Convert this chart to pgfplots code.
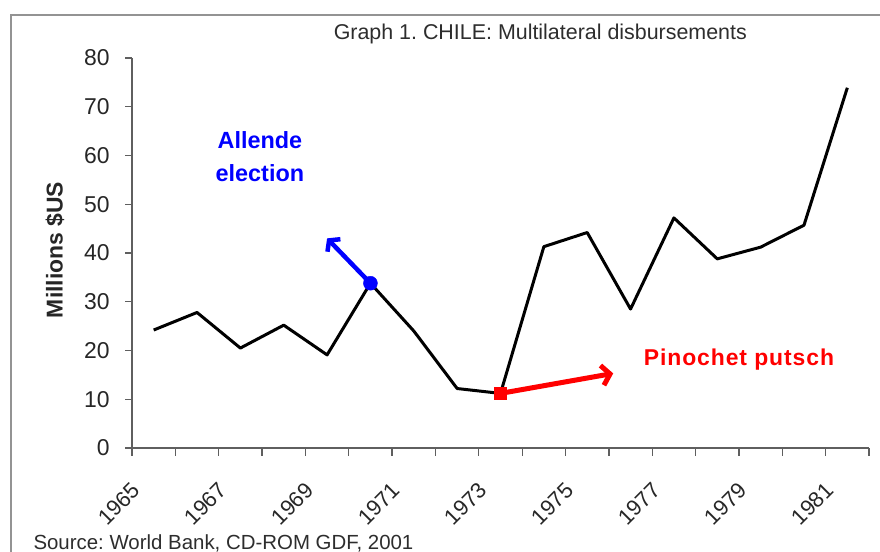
\documentclass[border=0pt]{standalone}
\usepackage{pgfplots}
\pgfplotsset{compat=1.18}
\usepackage{fontspec}
\setmainfont{Liberation Sans}
\usetikzlibrary{arrows.meta}
\definecolor{axgray}{RGB}{95,95,95}
\definecolor{txtgray}{RGB}{45,45,45}
\frenchspacing
\begin{document}
\begin{tikzpicture}
\path[use as bounding box] (0bp,0bp) rectangle (880bp,552bp);
\draw[gray!85, line width=1.6bp] (11bp,-5bp) -- (11bp,537bp) -- (890bp,537bp);
\begin{axis}[
  at={(132bp,104bp)}, anchor=south west,
  scale only axis, width=737bp, height=390bp,
  xmin=1964.5, xmax=1981.5, ymin=0, ymax=80,
  axis x line*=bottom, axis y line*=left,
  axis line style={axgray, line width=1.3bp},
  clip=false,
  tick align=outside,
  major tick length=7bp,
  minor tick length=8bp,
  every tick/.style={axgray, line width=1.3bp},
  ytick={0,10,...,80},
  xtick={1965,1967,...,1981},
  xticklabels={1965,1967,1969,1971,1973,1975,1977,1979,1981},
  major x tick style={draw=none},
  minor xtick={1964.5,1965.5,...,1981.5},
  /pgf/number format/assume math mode=true,
  yticklabel style={font=\fontsize{23}{27}\selectfont, text=black!85, xshift=-12bp},
  xticklabel style={font=\fontsize{22}{26}\selectfont, text=black!85, xshift=-23bp, yshift=-21bp, rotate=45, anchor=north east},
  ylabel={Millions \$US},
  ylabel style={at={(axis description cs:-0.1045,0.508)}, anchor=center, font=\bfseries\fontsize{23}{27}\selectfont, text=black!85},
  title={Graph 1. CHILE: Multilateral disbursements},
  title style={at={(axis description cs:0.554,1.046)}, anchor=center, font=\fontsize{21.5}{25}\selectfont, text=txtgray},
]
\addplot[black, line width=3bp, line join=round] coordinates {
 (1965,24.2) (1966,27.8) (1967,20.5) (1968,25.2) (1969,19.1) (1970,33.8)
 (1971,24.0) (1972,12.2) (1973,11.2) (1974,41.3) (1975,44.2) (1976,28.5)
 (1977,47.2) (1978,38.8) (1979,41.2) (1980,45.7) (1981,73.9)};
\addplot[blue, line width=4.5bp, -{Straight Barb[length=7bp,width=18bp]}] coordinates {(1970,33.8) (1969,43.0)};
\addplot[red, line width=5bp, -{Straight Barb[length=8bp,width=20bp]}] coordinates {(1973,11.2) (1975.6,15.3)};
\addplot[only marks, mark=*, mark size=7bp, blue] coordinates {(1970,33.8)};
\addplot[only marks, mark=square*, mark size=6bp, red] coordinates {(1973,11.2)};
\node[blue, font=\bfseries\fontsize{23.5}{33}\selectfont, align=center] at (axis cs:1967.45,59.7) {Allende\\election};
\node[red, font=\bfseries\fontsize{23}{27}\selectfont\addfontfeatures{LetterSpace=4}] at (axis cs:1978.5,18.05) {Pinochet putsch};
\end{axis}
\node[anchor=west, font=\fontsize{20.5}{24}\selectfont, text=txtgray] at (30bp,9bp) {Source: World Bank, CD-ROM GDF, 2001};
\end{tikzpicture}
\end{document}
